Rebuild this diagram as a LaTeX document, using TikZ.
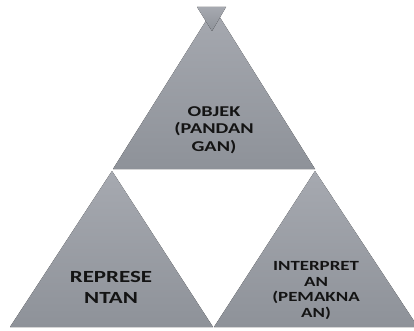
\documentclass[tikz,border=0pt]{standalone}
\usepackage{fontspec}
\usepackage{graphicx}
\newfontfamily\lblfont{Carlito}
\newcommand{\widelbl}[1]{\scalebox{1.35}[1]{\begin{tabular}{@{}c@{}}#1\end{tabular}}}
\definecolor{trilight}{HTML}{A6A9B0}
\definecolor{tridark}{HTML}{8E9299}
\definecolor{txt}{HTML}{141414}
\tikzset{
  tri/.style={top color=trilight,bottom color=tridark,draw=none},
  lbl/.style={align=center,text=txt,inner sep=0pt},
}
\begin{document}
\begin{tikzpicture}[x=1pt,y=-1pt]
\useasboundingbox (0,0) rectangle (414,331);
% triangles
\fill[tri] (214,8) -- (315,169) -- (113,169) -- cycle;
\fill[tri] (112,171) -- (213,327) -- (10,327) -- cycle;
\fill[tri] (315,171) -- (418,327) -- (214,327) -- cycle;
\fill[tri] (197,7) -- (226,7) -- (212,31) -- cycle;
% labels
\node[lbl] (objek) at (214,130) {\lblfont\bfseries\fontsize{15}{17.5}\selectfont\widelbl{OBJEK\\(PANDAN\\GAN)}};
\node[lbl] (repr) at (111,288.5) {\lblfont\bfseries\fontsize{17}{21.5}\selectfont\widelbl{REPRESE\\NTAN}};
\node[lbl] (interp) at (316,291) {\lblfont\bfseries\fontsize{14}{15.5}\selectfont\widelbl{INTERPRET\\AN\\(PEMAKNA\\AN)}};
\end{tikzpicture}
\end{document}
